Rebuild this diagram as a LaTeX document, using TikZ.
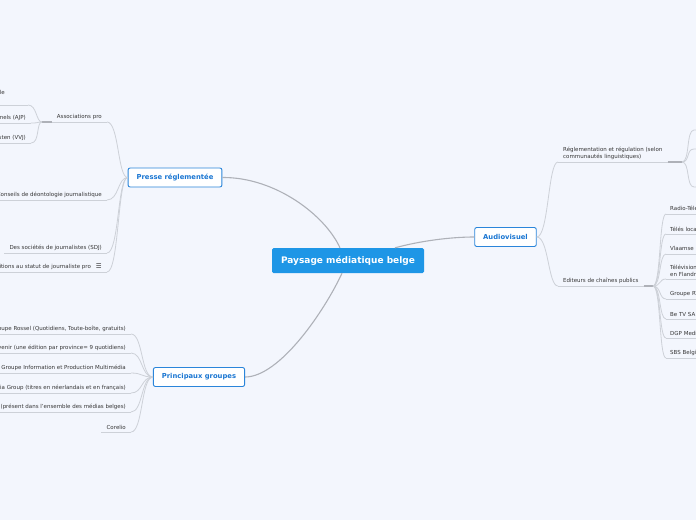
\documentclass[tikz,border=0pt]{standalone}
\usepackage{fontspec}
\setmainfont{DejaVu Sans}
\definecolor{bgcol}{HTML}{F3F6FD}
\definecolor{topblue}{HTML}{1E96E6}
\definecolor{boxblue}{HTML}{2A85DA}
\definecolor{boxtext}{HTML}{1A76D2}
\definecolor{textgray}{HTML}{363636}
\definecolor{linegray}{HTML}{CDD1D8}
\definecolor{maingray}{HTML}{AEB1B8}
\tikzset{
  central/.style={fill=topblue, text=white, font=\bfseries\fontsize{9}{11}\selectfont,
    rounded corners=1.5pt, minimum width=152pt, minimum height=25pt, inner sep=0pt},
  topic/.style={draw=boxblue, fill=white, line width=0.9pt, text=boxtext,
    font=\bfseries\fontsize{6.8}{8}\selectfont, rounded corners=2pt,
    minimum height=19pt, inner xsep=8.5pt},
  leaf/.style={text=textgray, font=\fontsize{5.5}{7}\selectfont, inner xsep=5pt, inner ysep=2pt},
  branch/.style={draw=linegray, line width=0.8pt},
  thickbar/.style={draw=maingray, line width=1.6pt},
  mainline/.style={draw=maingray, line width=1.1pt},
  leafL/.style={leaf, anchor=south east,
    append after command={(\tikzlastnode.south west) edge[branch] (\tikzlastnode.south east)}},
  leafR/.style={leaf, anchor=south west,
    append after command={(\tikzlastnode.south west) edge[branch] (\tikzlastnode.south east)}},
}
\begin{document}
\begin{tikzpicture}[x=1pt,y=-1pt]
\useasboundingbox[fill=bgcol] (0,0) rectangle (696,520);
\clip (0,0) rectangle (696,520);

% main topics
\node[central] (cen) at (348,260.5) {Paysage médiatique belge};
\node[topic] (pr) at (175,177.5) {Presse réglementée};
\node[topic] (pg) at (199,377) {Principaux groupes};
\node[topic] (av) at (505.5,237) {Audiovisuel};

\draw[mainline] (pr.east) .. controls (275,177) and (325,215) .. ([xshift=-8pt]cen.north);
\draw[mainline] (pg.east) .. controls (280,377) and (325,310) .. ([xshift=-6pt]cen.south);
\draw[mainline] ([xshift=47pt]cen.north) .. controls (420,241) and (450,237) .. (av.west);

% presse reglementee
\node[leafL] (p1) at (107,122) {Associations pro};
\node[leafL] (p2) at (107,200) {Conseils de déontologie journalistique};
\node[leafL] (p3) at (107,253) {Des sociétés de journalistes (SDJ)};
\node[leafL] (p4) at (107,272) {Conditions au statut de journaliste pro\hspace{5pt}{\fontsize{6.5}{7}\selectfont ☰}};
\foreach \n in {p1,p2,p3,p4} {
  \draw[branch] (\n.south east) .. controls +(12,0) and +(-10,0) .. (pr.west);
}

% associations pro
\coordinate (abr) at (42,122);
\draw[thickbar] (abr) -- (p1.south west);
\node[leaf, anchor=base east, inner xsep=0pt] (a1) at (5,94) {le};
\coordinate (a1u) at (28,105);
\draw[branch] (a1u) -- (-5,105);
\node[leafL] (a2) at (31,123) {Association des journalistes professionnels (AJP)};
\node[leafL] (a3) at (31,143) {Vlaamse Vereniging van Journalisten (VVJ)};
\draw[branch] (a1u) .. controls +(9,0) and +(-6,0) .. (abr);
\foreach \n in {a2,a3} {
  \draw[branch] (\n.south east) .. controls +(9,0) and +(-6,0) .. (abr);
}

% principaux groupes
\foreach \n/\y/\t in {g1/334/{Groupe Rossel (Quotidiens, Toute-boîte, gratuits)},
    g2/353/{Vers l'Avenir (une édition par province= 9 quotidiens)},
    g3/373/{Groupe Information et Production Multimédia},
    g4/393/{Roularta Media Group (titres en néerlandais et en français)},
    g5/412/{(présent dans l'ensemble des médias belges)},
    g6/432/{Corelio}} {
  \node[leafL] (\n) at (131,\y) {\t};
  \draw[branch] (\n.south east) .. controls +(12,0) and +(-12,0) .. (pg.west);
}

% audiovisuel
\node[leafR, align=left] (r1) at (558,162) {Réglementation et régulation (selon\\communautés linguistiques)};
\node[leafR] (r2) at (558,286) {Editeurs de chaînes publics};
\foreach \n in {r1,r2} {
  \draw[branch] (av.east) .. controls +(12,0) and +(-10,0) .. (\n.south west);
}
\coordinate (rbr) at (682,162);
\coordinate (ebr) at (653,286);
\draw[thickbar] (r1.south east) -- (rbr);
\draw[thickbar] (r2.south east) -- (ebr);

% reglementation (hors cadre)
\foreach \n/\y in {rr1/130,rr2/149,rr3/187} {
  \coordinate (\n) at (694,\y);
  \draw[branch] (rbr) .. controls +(8,0) and +(-8,0) .. (\n) -- +(10,0);
}

% editeurs de chaines
\foreach \n/\y/\t in {e1/214/{Radio-Télévision belge de la Communauté française (RTBF)},
    e2/234/{Télés locales},
    e3/254/{Vlaamse Radio- en Televisieomroep (VRT)},
    e4/279/{Télévisions régionales\\en Flandre},
    e5/299/{Groupe RTL},
    e6/319/{Be TV SA},
    e7/338/{DGP Media},
    e8/358/{SBS Belgium}} {
  \node[leafR, align=left, inner xsep=4pt] (\n) at (666,\y) {\t};
  \draw[branch] (ebr) .. controls +(8,0) and +(-7,0) .. (\n.south west);
}
\end{tikzpicture}
\end{document}
